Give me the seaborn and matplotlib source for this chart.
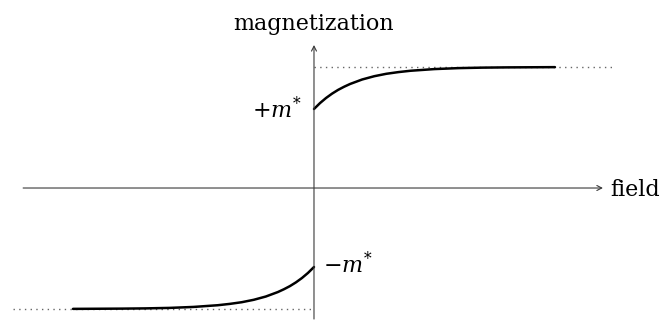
import numpy as np
import matplotlib
matplotlib.use("Agg")
import matplotlib.pyplot as plt
import seaborn as sns

# Upper branch (positive field)
field_up = [0.0, 0.025, 0.05, 0.075, 0.1, 0.125, 0.15, 0.2, 0.25, 0.3, 0.35, 0.4, 0.5, 0.6, 0.7, 0.8, 1.0]
mag_up = [0.653, 0.702, 0.744, 0.780, 0.811, 0.837, 0.860, 0.897, 0.924, 0.944, 0.958, 0.969, 0.983, 0.991, 0.995, 0.997, 0.999]

# Lower branch (negative field)
field_down = [-1.0, -0.8, -0.7, -0.6, -0.5, -0.4, -0.35, -0.3, -0.25, -0.2, -0.15, -0.125, -0.1, -0.075, -0.05, -0.025, 0.0]
mag_down = [-0.999, -0.997, -0.995, -0.991, -0.983, -0.969, -0.958, -0.944, -0.924, -0.897, -0.860, -0.837, -0.811, -0.780, -0.744, -0.702, -0.653]

saturation = 1.0
m_star = 0.653

axis_labels = ["field", "magnetization"]
m_labels = [r"$+m^{*}$", r"$-m^{*}$"]

sns.set_style("white")
plt.rcParams["font.family"] = ["DejaVu Serif"]
plt.rcParams["mathtext.fontset"] = "dejavuserif"
plt.rcParams["text.color"] = "black"

fig = plt.figure(figsize=(6.61, 3.2), dpi=100)
ax = fig.add_axes([0, 0, 1, 1])
ax.set_xlim(-1.303, 1.440)
ax.set_ylim(-1.091, 1.554)
ax.axis("off")

axis_color = "#3a3a3a"
arrow = dict(arrowstyle="->,head_length=0.35,head_width=0.18", lw=0.8,
             color=axis_color, shrinkA=0, shrinkB=0)

# coordinate axes
ax.annotate("", xy=(1.199, 0), xytext=(-1.207, 0), arrowprops=arrow)
ax.annotate("", xy=(0, 1.182), xytext=(0, -1.083), arrowprops=arrow)

# saturation guides
dot = (0, (1, 3.1))
ax.plot([0, 1.249], [saturation, saturation], color="#666666", lw=1.0, ls=dot)
ax.plot([-1.249, 0], [-saturation, -saturation], color="#666666", lw=1.0, ls=dot)

# magnetization branches
sns.lineplot(x=field_up, y=mag_up, ax=ax, color="black", lw=1.8)
sns.lineplot(x=field_down, y=mag_down, ax=ax, color="black", lw=1.8)

ax.text(1.228, -0.066, axis_labels[0], fontsize=16, ha="left", va="baseline", color="black")
ax.text(0.0, 1.306, axis_labels[1], fontsize=16, ha="center", va="baseline", color="black")
ax.text(-0.05, m_star - 0.008, m_labels[0], fontsize=16, ha="right", va="center", color="black")
ax.text(0.037, -m_star + 0.017, m_labels[1], fontsize=16, ha="left", va="center", color="black")

fig.savefig("out.png", dpi=100)
